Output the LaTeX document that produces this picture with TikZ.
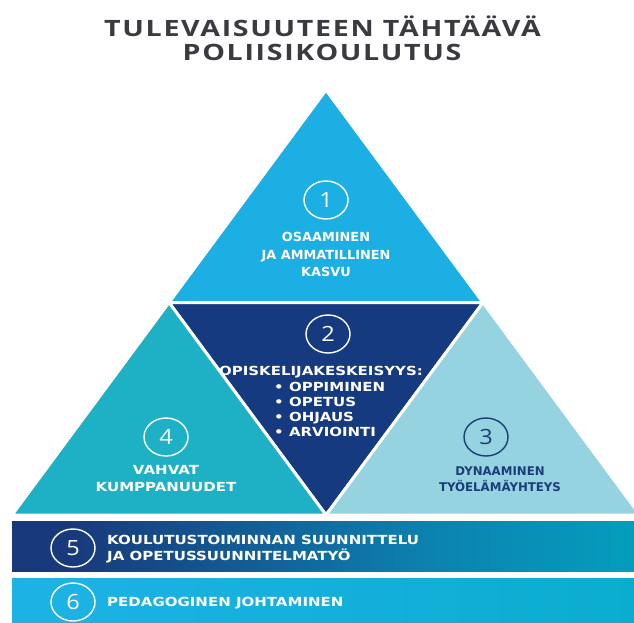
\documentclass[tikz,border=0pt]{standalone}
\usepackage{fontspec}
\setmainfont{DejaVu Sans}
\newfontfamily\titlefont{Open Sans}[LetterSpace=7.5,FakeStretch=1.27]
\newfontfamily\boxfontA{DejaVu Sans}[FakeStretch=1.03]
\newfontfamily\boxfontB{DejaVu Sans}[FakeStretch=1.2]
\newfontfamily\boxfontC{DejaVu Sans}[FakeStretch=0.98]
\newfontfamily\numfont{Open Sans}[FakeStretch=1.12]
\usetikzlibrary{shapes.geometric}
\definecolor{cone}{RGB}{28,175,228}
\definecolor{ctwo}{RGB}{22,58,128}
\definecolor{cfour}{RGB}{30,176,196}
\definecolor{cthree}{RGB}{148,211,223}
\definecolor{navytxt}{RGB}{28,60,122}
\definecolor{titlegray}{RGB}{58,58,64}
\definecolor{bnavy}{RGB}{24,58,124}
\definecolor{bmid}{RGB}{12,130,175}
\definecolor{bteal}{RGB}{0,170,195}
\definecolor{blight}{RGB}{28,178,228}
\pgfdeclarehorizontalshading{bandfive}{100bp}{color(0bp)=(bnavy); color(30bp)=(bnavy); color(58bp)=(bmid); color(82bp)=(bteal); color(100bp)=(bteal)}
\pgfdeclarehorizontalshading{bandsix}{100bp}{color(0bp)=(blight); color(30bp)=(blight); color(100bp)=(bteal)}
\tikzset{
  tri/.style={draw=white, line width=3pt, line join=miter},
  numcirc/.style={ellipse, draw=#1, text=#1, line width=1.4pt, minimum width=44pt, minimum height=38pt, inner sep=0pt, font=\numfont\fontsize{21}{21}\selectfont},
  tritext/.style={inner sep=0pt, align=center, font=\boxfontA\bfseries\fontsize{12.5}{17.5}\selectfont},
  widetext/.style={inner sep=0pt, align=center, font=\boxfontB\bfseries\fontsize{12.5}{17}\selectfont},
  narrowtext/.style={inner sep=0pt, align=center, font=\boxfontC\bfseries\fontsize{12}{16.5}\selectfont},
  listtext/.style={inner sep=0pt, align=left, font=\boxfontB\bfseries\fontsize{12.5}{15}\selectfont},
  bandtext/.style={inner sep=0pt, align=left, anchor=west, text=white, font=\boxfontB\bfseries\fontsize{12.5}{16}\selectfont},
  titletext/.style={inner sep=0pt, text=titlegray, font=\titlefont\bfseries\fontsize{22.5}{22.5}\selectfont}
}
\begin{document}
\begin{tikzpicture}[x=1pt,y=-1pt]
\useasboundingbox (0,0) rectangle (634,622);
\clip (0,0) rectangle (634,622);
\fill[white] (0,0) rectangle (634,622);
% geometry
\coordinate (A) at (326,90);
\coordinate (BL) at (12,515);
\coordinate (BR) at (640,515);
\coordinate (ML) at (169,302.5);
\coordinate (MR) at (483,302.5);
\coordinate (MB) at (326,515);
% triangles
\path[tri, fill=cone] (A) -- (ML) -- (MR) -- cycle;
\path[tri, fill=ctwo] (ML) -- (MR) -- (MB) -- cycle;
\path[tri, fill=cfour] (ML) -- (BL) -- (MB) -- cycle;
\path[tri, fill=cthree] (MR) -- (MB) -- (BR) -- cycle;
% bands
\path[shading=bandfive] (12,521.5) rectangle (640,571);
\path[shading=bandsix] (12,578) rectangle (640,630);
% title
\node[titletext] (title1) at (322.5,26) {TULEVAISUUTEEN TÄHTÄÄVÄ};
\node[titletext] (title2) at (322,52) {POLIISIKOULUTUS};
% triangle 1
\node[numcirc=white] (n1) at (326,200) {1};
\node[tritext, text=white] (t1) at (326,254.5) {OSAAMINEN\\JA AMMATILLINEN\\KASVU};
% triangle 2
\node[numcirc=white] (n2) at (328,334) {2};
\node[widetext, text=white] (t2) at (321,372) {OPISKELIJAKESKEISYYS:};
\node[listtext, text=white, anchor=west] (t2list) at (274,409.5) {• OPPIMINEN\\• OPETUS\\• OHJAUS\\• ARVIOINTI};
% triangle 4
\node[numcirc=white] (n4) at (166,437) {4};
\node[widetext, text=white] (t4) at (166,478.5) {VAHVAT\\KUMPPANUUDET};
% triangle 3
\node[numcirc=navytxt] (n3) at (486,437) {3};
\node[narrowtext, text=navytxt] (t3) at (500,479) {DYNAAMINEN\\TYÖELÄMÄYHTEYS};
% band 5
\node[numcirc=white] (n5) at (73,548) {5};
\node[bandtext] (t5) at (107,549) {KOULUTUSTOIMINNAN SUUNNITTELU\\JA OPETUSSUUNNITELMATYÖ};
% band 6
\node[numcirc=white] (n6) at (73,602) {6};
\node[bandtext] (t6) at (107,603) {PEDAGOGINEN JOHTAMINEN};
\end{tikzpicture}
\end{document}
